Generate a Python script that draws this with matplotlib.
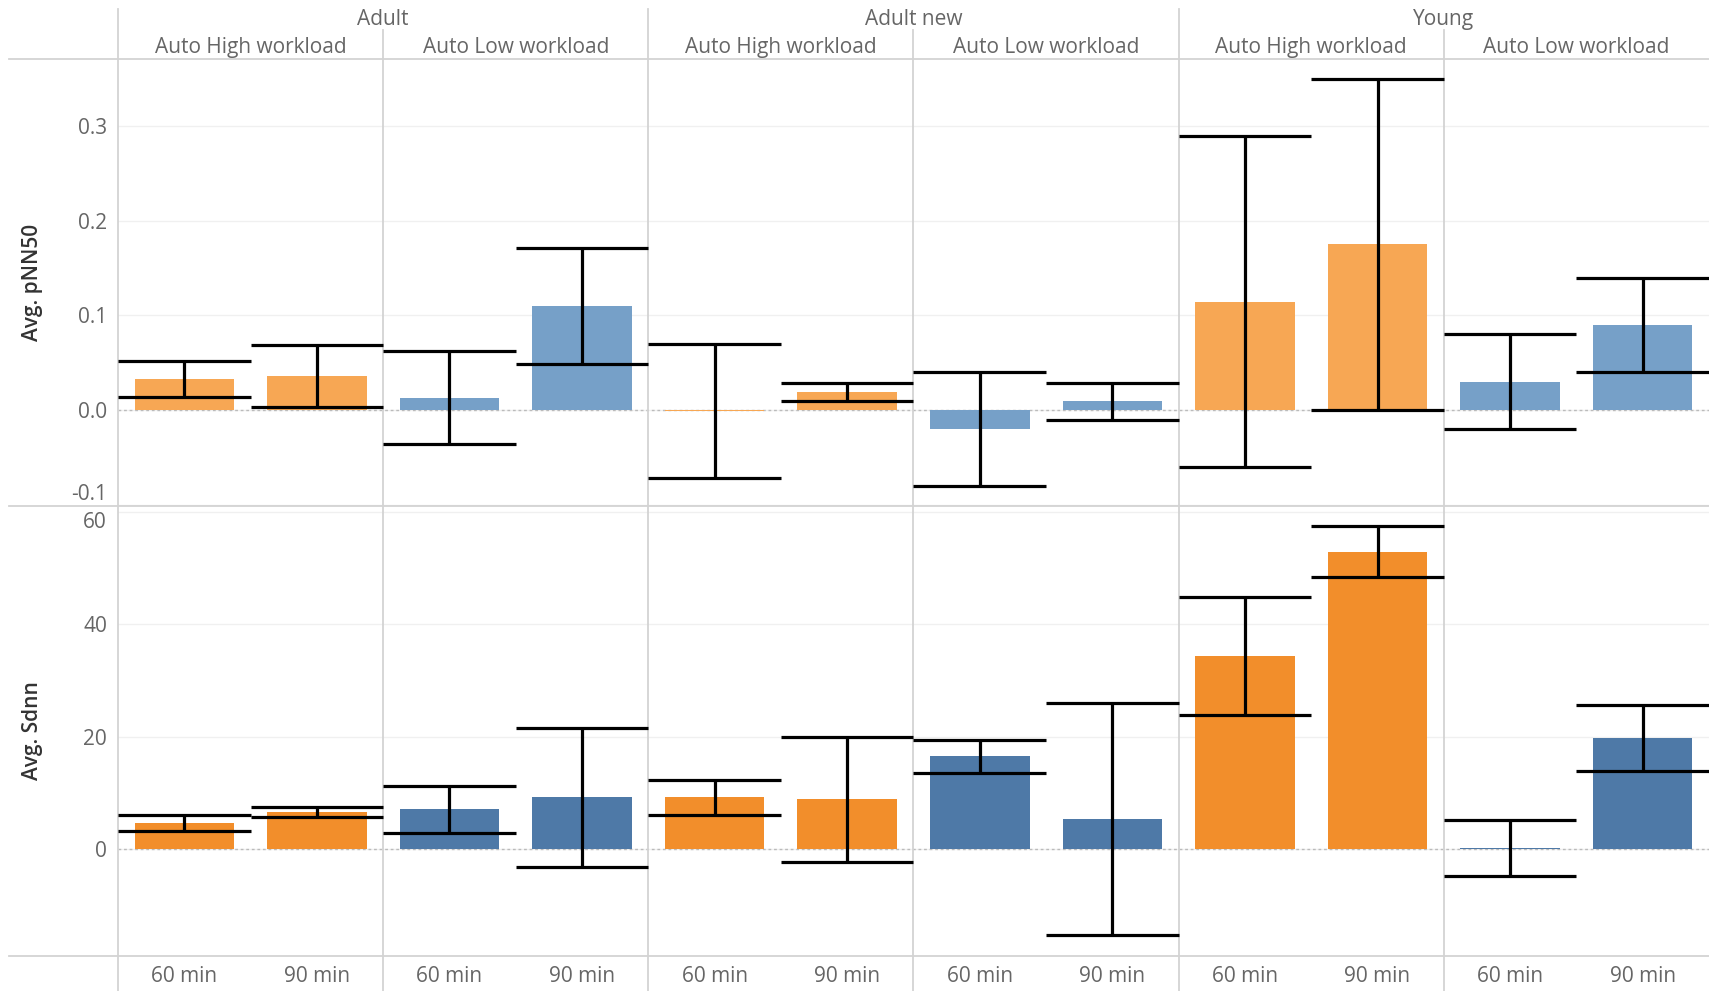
import matplotlib
matplotlib.use("Agg")
import matplotlib.pyplot as plt
from matplotlib.lines import Line2D
from matplotlib.transforms import blended_transform_factory
import numpy as np

plt.rcParams['font.family'] = ['Open Sans', 'DejaVu Sans']

# panel layout: group -> workload -> duration
groups = ['Adult', 'Adult new', 'Young']
workloads = ['Auto High workload', 'Auto Low workload']
durations = ['60 min', '90 min']

# averages and error half-widths, one value per duration slot (12 slots)
pnn50_mean = [0.033, 0.036, 0.013, 0.110, -0.001, 0.019, -0.020, 0.009, 0.1145, 0.175, 0.030, 0.090]
pnn50_err = [0.019, 0.033, 0.049, 0.061, 0.0705, 0.010, 0.0605, 0.020, 0.175, 0.175, 0.050, 0.050]

sdnn_mean = [4.7, 6.6, 7.1, 9.2, 9.2, 8.9, 16.5, 5.3, 34.3, 52.9, 0.25, 19.8]
sdnn_err = [1.45, 0.9, 4.2, 12.4, 3.1, 11.1, 2.9, 20.6, 10.5, 4.6, 4.95, 5.9]

orange_light, blue_light = '#F7A754', '#76A0C8'
orange, blue = '#F28E2B', '#4E79A7'
line_gray = '#D3D3D3'
text_gray = '#666666'
fs = 15

W, H = 1709, 991
fig = plt.figure(figsize=(W / 100, H / 100), dpi=100)

left, right = 118, 1709
ax_top = fig.add_axes([left / W, 1 - 506 / H, (right - left) / W, 447 / H])
ax_bot = fig.add_axes([left / W, 1 - 956 / H, (right - left) / W, 450 / H])

n = len(groups) * len(workloads) * len(durations)
x = np.arange(n)
# workload of each slot decides the colour
is_high = [(i // 2) % 2 == 0 for i in range(n)]


def draw_panel(ax, mean, err, c_high, c_low, ylim, yticks, ylabels):
    colors = [c_high if h else c_low for h in is_high]
    ax.bar(x, mean, width=0.75, color=colors, zorder=2)
    mean = np.array(mean)
    err = np.array(err)
    ax.vlines(x, mean - err, mean + err, color='black', lw=2.3, zorder=3)
    ax.hlines(mean + err, x - 0.5, x + 0.5, color='black', lw=2.3, zorder=3)
    ax.hlines(mean - err, x - 0.5, x + 0.5, color='black', lw=2.3, zorder=3)
    ax.axhline(0, color='#BBBBBB', lw=1, ls=(0, (2, 2)), zorder=1)
    ax.set_xlim(-0.5, n - 0.5)
    ax.set_ylim(*ylim)
    ax.set_yticks(yticks)
    ax.set_yticklabels(ylabels)
    for t in yticks:
        ax.axhline(t, color='#F0F0F0', lw=1, zorder=0)
    for k in range(1, n // 2):
        ax.axvline(2 * k - 0.5, color=line_gray, lw=1.3, zorder=1)
    for s in ax.spines.values():
        s.set_visible(False)
    ax.spines['left'].set_visible(True)
    ax.spines['left'].set_color(line_gray)
    ax.spines['left'].set_linewidth(1.3)
    ax.tick_params(axis='y', length=0, labelsize=fs, labelcolor=text_gray, pad=8)
    ax.tick_params(axis='x', length=0)


draw_panel(ax_top, pnn50_mean, pnn50_err, orange_light, blue_light,
           (-0.1015, 0.371), [-0.1, 0.0, 0.1, 0.2, 0.3],
           ['-0.1', '0.0', '0.1', '0.2', '0.3'])
draw_panel(ax_bot, sdnn_mean, sdnn_err, orange, blue,
           (-19.0, 61.0), [0, 20, 40, 60], ['0', '20', '40', '60'])

# keep edge tick labels inside their pane
ax_top.get_yticklabels()[0].set_va('bottom')
ax_bot.get_yticklabels()[-1].set_va('top')

ax_top.set_xticks([])
ax_bot.set_xticks(x)
ax_bot.set_xticklabels(durations * (n // 2))
ax_bot.tick_params(axis='x', labelsize=fs, labelcolor=text_gray, pad=7)

ax_top.set_ylabel('Avg. pNN50', fontsize=fs, color='#333333', fontweight='semibold')
ax_bot.set_ylabel('Avg. Sdnn', fontsize=fs, color='#333333', fontweight='semibold')
ax_top.yaxis.set_label_coords(-(left - 43) / (right - left), 0.5)
ax_bot.yaxis.set_label_coords(-(left - 43) / (right - left), 0.5)

# column headers
hdr = blended_transform_factory(ax_top.transData, fig.transFigure)
for g, name in enumerate(groups):
    ax_top.text(4 * g + 1.5, 1 - 25 / H, name, transform=hdr, ha='center', va='baseline',
                fontsize=fs, color=text_gray)
    for w, wl in enumerate(workloads):
        ax_top.text(4 * g + 2 * w + 0.5, 1 - 53 / H, wl, transform=hdr, ha='center',
                    va='baseline', fontsize=fs, color=text_gray)

# header and footer divider lines
for k in range(n // 2):
    xpos = 2 * k - 0.5
    y0 = 1 - 9 / H if k % 2 == 0 else 1 - 30 / H
    fig.add_artist(Line2D([xpos, xpos], [y0, 1 - 59 / H], transform=hdr,
                          color=line_gray, lw=1.3))
    fig.add_artist(Line2D([xpos, xpos], [0, 1 - 956 / H], transform=hdr,
                          color=line_gray, lw=1.3))
for ypx in (59, 506, 956):
    fig.add_artist(Line2D([9 / W, 1], [1 - ypx / H, 1 - ypx / H], transform=fig.transFigure,
                          color=line_gray, lw=1.3))

fig.savefig('out.png', dpi=100, facecolor='white')
